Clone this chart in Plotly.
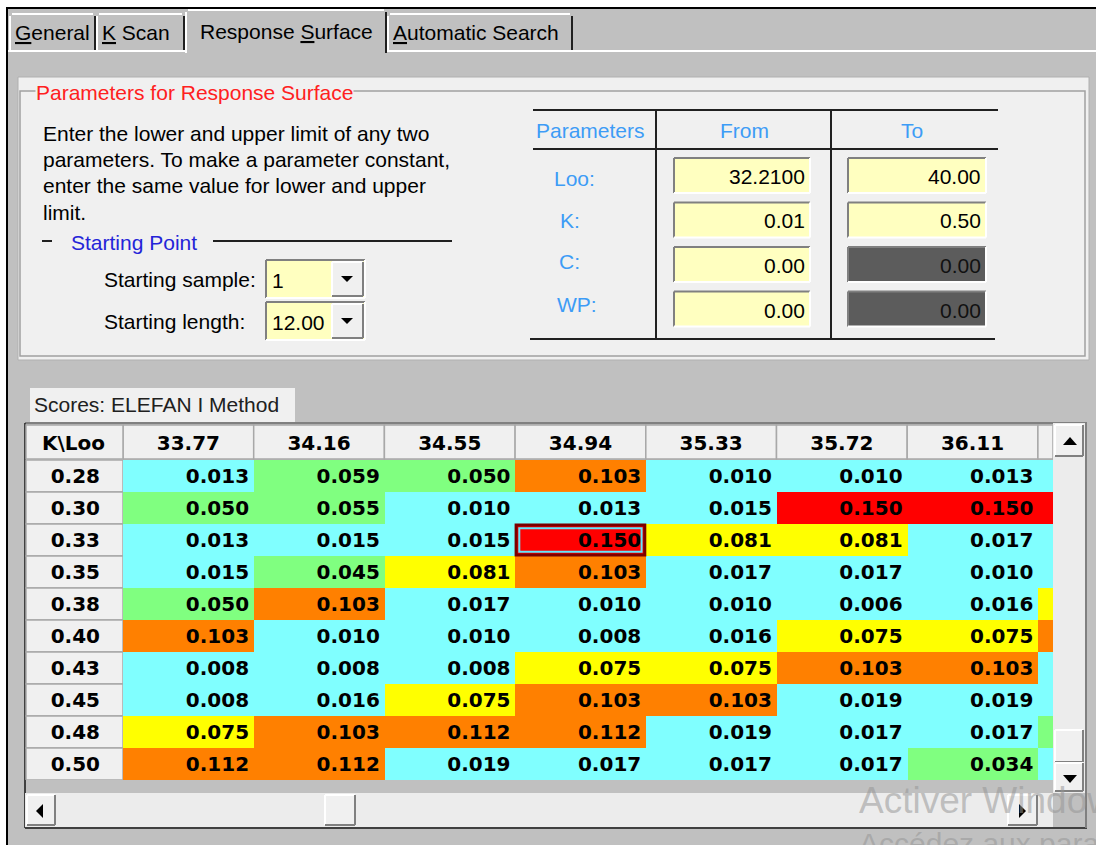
import plotly.graph_objects as go

W, H = 1096, 845

# ---------------- data ----------------
loo_values = ["33.77", "34.16", "34.55", "34.94", "35.33", "35.72", "36.11", "36.50"]
k_values = ["0.28", "0.30", "0.33", "0.35", "0.38", "0.40", "0.43", "0.45", "0.48", "0.50"]

scores_k028 = [0.013, 0.059, 0.050, 0.103, 0.010, 0.010, 0.013, 0.013]
scores_k030 = [0.050, 0.055, 0.010, 0.013, 0.015, 0.150, 0.150, 0.150]
scores_k033 = [0.013, 0.015, 0.015, 0.150, 0.081, 0.081, 0.017, 0.017]
scores_k035 = [0.015, 0.045, 0.081, 0.103, 0.017, 0.017, 0.010, 0.010]
scores_k038 = [0.050, 0.103, 0.017, 0.010, 0.010, 0.006, 0.016, 0.075]
scores_k040 = [0.103, 0.010, 0.010, 0.008, 0.016, 0.075, 0.075, 0.103]
scores_k043 = [0.008, 0.008, 0.008, 0.075, 0.075, 0.103, 0.103, 0.019]
scores_k045 = [0.008, 0.016, 0.075, 0.103, 0.103, 0.019, 0.019, 0.017]
scores_k048 = [0.075, 0.103, 0.112, 0.112, 0.019, 0.017, 0.017, 0.034]
scores_k050 = [0.112, 0.112, 0.019, 0.017, 0.017, 0.017, 0.034, 0.017]
scores = [scores_k028, scores_k030, scores_k033, scores_k035, scores_k038,
          scores_k040, scores_k043, scores_k045, scores_k048, scores_k050]

selected_loo = "34.94"
selected_k = "0.33"

param_names = ["Loo:", "K:", "C:", "WP:"]
param_from = ["32.2100", "0.01", "0.00", "0.00"]
param_to = ["40.00", "0.50", "0.00", "0.00"]
param_to_enabled = [True, True, False, False]

tab_names = ["<u>G</u>eneral", "<u>K</u> Scan", "Response <u>S</u>urface", "<u>A</u>utomatic Search"]
intro_lines = ["Enter the lower and upper limit of any two",
               "parameters. To make a parameter constant,",
               "enter the same value for lower and upper",
               "limit."]
start_sample = "1"
start_length = "12.00"

# colour classes for the score cells
CYAN, GREEN, YELLOW, ORANGE, RED = "#80ffff", "#80ff80", "#ffff00", "#ff8000", "#ff0000"
zmax = 0.15
colorscale = [[0, CYAN], [0.03 / zmax, CYAN], [0.03 / zmax, GREEN], [0.07 / zmax, GREEN],
              [0.07 / zmax, YELLOW], [0.1 / zmax, YELLOW], [0.1 / zmax, ORANGE],
              [0.14 / zmax, ORANGE], [0.14 / zmax, RED], [1, RED]]

UI_FONT = "Liberation Sans"
GRID_FONT = "DejaVu Sans"

# ---------------- helpers (pixel -> paper) ----------------
def X(px):
    return px / W

def Y(py):
    return 1 - py / H

shapes = []
annots = []

def rect(x0, y0, x1, y1, fill=None, line=None, lw=1, layer="below"):
    shapes.append(dict(type="rect", xref="paper", yref="paper", x0=X(x0), x1=X(x1),
                       y0=Y(y1), y1=Y(y0), fillcolor=fill if fill else "rgba(0,0,0,0)",
                       line=dict(color=line if line else "rgba(0,0,0,0)", width=lw if line else 0),
                       layer=layer))

def seg(x0, y0, x1, y1, color, lw=1, layer="below"):
    shapes.append(dict(type="line", xref="paper", yref="paper", x0=X(x0), x1=X(x1),
                       y0=Y(y0), y1=Y(y1), line=dict(color=color, width=lw), layer=layer))

def tri(points, color="#000000", layer="below"):
    path = "M " + " L ".join(f"{X(a)},{Y(b)}" for a, b in points) + " Z"
    shapes.append(dict(type="path", xref="paper", yref="paper", path=path,
                       fillcolor=color, line=dict(width=0), layer=layer))

def text(x, y, s, size=21, color="#000000", anchor="left", family=UI_FONT, bold=False, bg=None):
    annots.append(dict(x=X(x), y=Y(y), xref="paper", yref="paper", text=s, showarrow=False,
                       xanchor=anchor, yanchor="middle",
                       font=dict(family=family, size=size, color=color, weight="bold" if bold else "normal"),
                       bgcolor=bg if bg else "rgba(0,0,0,0)", borderpad=0))

def sunken(x0, y0, x1, y1, fill):
    rect(x0, y0, x1, y1, fill)
    seg(x0, y0, x1, y0, "#808080", 2)
    seg(x0, y0, x0, y1, "#808080", 2)
    seg(x0, y1, x1, y1, "#ffffff", 2)
    seg(x1, y0, x1, y1, "#ffffff", 2)

def raised(x0, y0, x1, y1, fill="#f0f0f0"):
    rect(x0, y0, x1, y1, fill)
    seg(x0, y0, x1, y0, "#ffffff", 2)
    seg(x0, y0, x0, y1, "#ffffff", 2)
    seg(x0, y1, x1, y1, "#808080", 2)
    seg(x1, y0, x1, y1, "#808080", 2)

# ---------------- window & tabs ----------------
rect(7, 8, W, H, "#c0c0c0")
seg(6, 8, W, 8, "#000000", 2)
seg(7, 8, 7, H, "#000000", 2)

tab_x = [(10, 95), (97, 184), (186, 386), (388, 572)]
seg(8, 51, W, 51, "#ffffff", 2)
for i, (a, b) in enumerate(tab_x):
    sel = (i == 2)
    top = 10 if sel else 14
    bot = 53 if sel else 50
    rect(a, top, b, bot, "#c0c0c0")
    seg(a, bot, a, top + 2, "#ffffff", 2)
    seg(a + 2, top, b - 2, top, "#ffffff", 2)
    seg(b, top + 2, b, bot, "#202020", 2)
    text(a + (13 if sel else 4), 31 if sel else 33, tab_names[i])

# ---------------- parameters panel ----------------
rect(18, 77, 1089, 360, "#f0f0f0", "#b0b0b0", 1)
rect(20, 91, 1085, 356, None, "#a0a0a0", 1.5)
text(35, 92, "Parameters for Response Surface", color="#ff2020", bg="#f0f0f0")

for i, s in enumerate(intro_lines):
    text(42, 133 + i * 26.5, s)

seg(42, 241, 52, 241, "#202020", 2)
text(70, 242, "Starting Point", color="#2424d8")
seg(213, 241, 452, 241, "#202020", 2)

combo_y = [(260, 298), (302, 340)]
combo_lbl = ["Starting sample:", "Starting length:"]
combo_val = [start_sample, start_length]
for (a, b), lbl, val in zip(combo_y, combo_lbl, combo_val):
    text(103, (a + b) / 2 + 0.5, lbl)
    sunken(266, a, 365, b, "#ffffc0")
    raised(332, a + 2, 363, b - 2, "#f0f0f0")
    tri([(341, (a + b) / 2 - 3), (353, (a + b) / 2 - 3), (347, (a + b) / 2 + 3)])
    text(271, (a + b) / 2 + 1, val)

# right parameter table
seg(533, 110, 998, 110, "#202020", 2)
seg(533, 149, 998, 149, "#202020", 2)
seg(530, 339, 995, 339, "#202020", 2)
seg(656, 110, 656, 339, "#202020", 2)
seg(831, 110, 831, 339, "#202020", 2)
PBLUE = "#3d9cf6"
text(535, 130, "Parameters", color=PBLUE)
text(744, 130, "From", color=PBLUE, anchor="center")
text(912, 130, "To", color=PBLUE, anchor="center")
label_x = [553, 559, 558, 556]
for i, name in enumerate(param_names):
    top = 158 + i * 44.5
    bot = top + 35
    text(label_x[i], 178 + i * 42, name, color=PBLUE)
    sunken(674, top, 810, bot, "#ffffc0")
    text(806, (top + bot) / 2 + 1, param_from[i], anchor="right")
    sunken(848, top, 986, bot, "#ffffc0" if param_to_enabled[i] else "#5c5c5c")
    text(982, (top + bot) / 2 + 1, param_to[i], anchor="right",
         color="#000000" if param_to_enabled[i] else "#111111")

# ---------------- scores grid ----------------
rect(30, 388, 295, 422, "#f0f0f0")
text(33, 404, "Scores: ELEFAN I Method", color="#202020")

rect(25, 423, 1087, 828, "#c0c0c0")
seg(25, 423, 1087, 423, "#808080", 2)
seg(25, 423, 25, 828, "#404040", 2)
seg(25, 828, 1087, 828, "#404040", 2)
seg(1086, 423, 1086, 828, "#808080", 2)

GRID_L, GRID_R, GRID_T, GRID_B = 123, 1053, 460, 780
COL_W = 130.7
n_rows = len(k_values)
n_cols = len(loo_values)
x_range = [-0.5, -0.5 + (GRID_R - GRID_L) / COL_W]

# header cells (Loo) - positioned via the x axis
for i in range(n_cols):
    x0 = i - 0.5
    x1 = min(i + 0.5, x_range[1])
    if x0 >= x_range[1]:
        continue
    shapes.append(dict(type="rect", xref="x", yref="paper", x0=x0, x1=x1, y0=Y(459), y1=Y(425),
                       fillcolor="#f0f0f0", line=dict(color="#a8a8a8", width=1.5), layer="below"))
# corner header
rect(26, 425, 123, 459, "#f0f0f0", "#a8a8a8", 1.5)
text(73, 443, "K\\Loo", family=GRID_FONT, size=20, bold=True, anchor="center")
# row header cells (K) - positioned via the y axis
for r in range(n_rows):
    shapes.append(dict(type="rect", xref="paper", yref="y", x0=X(26), x1=X(123), y0=r - 0.5, y1=r + 0.5,
                       fillcolor="#f0f0f0", line=dict(color="#a8a8a8", width=1.5), layer="below"))

# scrollbars
rect(25, 793, 1053, 827, "#ececec")
raised(27, 795, 55, 825)
tri([(43, 804), (43, 818), (36, 811)])
raised(325, 795, 355, 825)
raised(1008, 795, 1037, 825)
tri([(1019, 804), (1019, 818), (1026, 811)])
rect(1053, 423, 1085, 793, "#ececec")
raised(1055, 425, 1083, 456)
tri([(1063, 445), (1077, 445), (1070, 437)])
raised(1055, 730, 1083, 762)
raised(1055, 763, 1083, 791)
tri([(1063, 775), (1077, 775), (1070, 783)])
rect(1053, 793, 1085, 827, "#c0c0c0")

# heatmap cells
fig = go.Figure()
fig.add_trace(go.Heatmap(
    z=scores, x=list(range(n_cols)), y=list(range(n_rows)),
    colorscale=colorscale, zmin=0, zmax=zmax, showscale=False, hoverinfo="skip",
))
# cell values (only for columns scrolled into view; the last column is only a sliver)
tx, ty, tt = [], [], []
for r in range(n_rows):
    for c in range(n_cols):
        if c + 0.5 > x_range[1]:
            continue
        tx.append(c + 0.5 - 0.035)
        ty.append(r + 0.05)
        tt.append(f"{scores[r][c]:.3f}")
fig.add_trace(go.Scatter(
    x=tx, y=ty, text=tt, mode="text", textposition="middle left",
    textfont=dict(family=GRID_FONT, size=20, color="#000000", weight="bold"),
    cliponaxis=True, hoverinfo="skip", showlegend=False,
))

# selected cell frame
sc = loo_values.index(selected_loo)
sr = k_values.index(selected_k)
dx = 3 / COL_W
dy = 3 / ((GRID_B - GRID_T) / n_rows)
shapes.append(dict(type="rect", xref="x", yref="y", x0=sc - 0.5 + dx / 3, x1=sc + 0.5 - dx / 3,
                   y0=sr - 0.5 + dy / 3, y1=sr + 0.5 - dy / 3,
                   line=dict(color="#7a0000", width=3), layer="above"))
shapes.append(dict(type="rect", xref="x", yref="y", x0=sc - 0.5 + dx * 1.4, x1=sc + 0.5 - dx * 1.4,
                   y0=sr - 0.5 + dy * 1.4, y1=sr + 0.5 - dy * 1.4,
                   line=dict(color="#60e8ff", width=2), layer="above"))

# watermark
text(858, 800, "Activer Windows", size=37, color="rgba(150,150,150,0.55)", family="Liberation Sans")
text(858, 843, "Accédez aux paramètres pour activer Windows.", size=30,
     color="rgba(150,150,150,0.55)", family="Liberation Sans")

fig.update_layout(
    width=W, height=H, margin=dict(l=0, r=0, t=0, b=0),
    paper_bgcolor="#ffffff", plot_bgcolor="rgba(0,0,0,0)",
    showlegend=False, hovermode=False,
    shapes=shapes, annotations=annots,
    xaxis=dict(domain=[X(GRID_L), X(GRID_R)], range=x_range, side="top",
               tickvals=list(range(n_cols)), ticktext=loo_values, ticks="",
               showgrid=False, zeroline=False, showline=False, fixedrange=True,
               ticklabelstandoff=5,
               tickfont=dict(family=GRID_FONT, size=20, color="#000000", weight="bold")),
    yaxis=dict(domain=[Y(GRID_B), Y(GRID_T)], range=[n_rows - 0.5, -0.5],
               tickvals=list(range(n_rows)), ticktext=k_values, ticks="",
               showgrid=False, zeroline=False, showline=False, fixedrange=True,
               ticklabelstandoff=22,
               tickfont=dict(family=GRID_FONT, size=20, color="#000000", weight="bold")),
)

fig.write_html("out.html", post_script="document.body.style.margin='0';document.body.style.overflow='hidden';",
               config={"displayModeBar": False})
